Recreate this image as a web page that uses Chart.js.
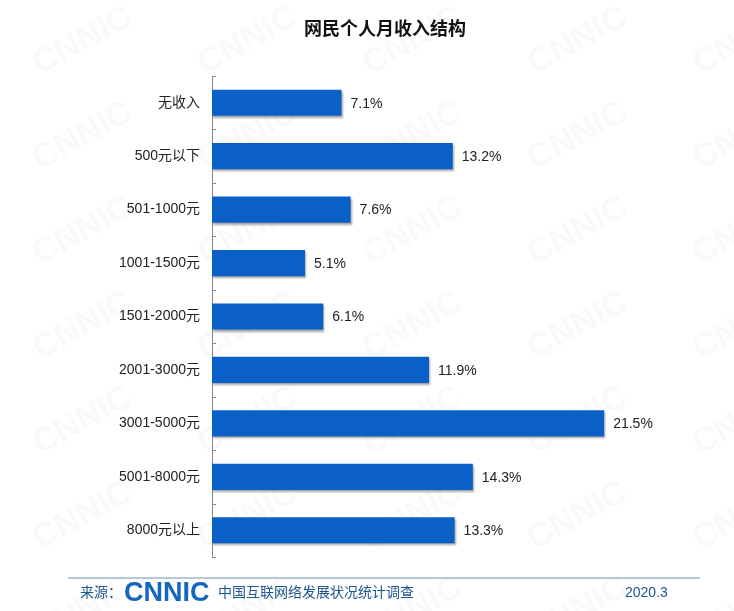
<!DOCTYPE html>
<html>
<head>
<meta charset="utf-8">
<script src="https://cdn.jsdelivr.net/npm/chart.js@4.4.0/dist/chart.umd.min.js"></script>
<style>
  html,body{margin:0;padding:0;background:#fff;}
  #wrap{width:734px;height:611px;position:relative;}
</style>
</head>
<body>
<div id="wrap"><canvas id="chart" width="734" height="611"></canvas></div>
<script>
// 网民个人月收入结构
var categories=['无收入','500元以下','501-1000元','1001-1500元','1501-2000元','2001-3000元','3001-5000元','5001-8000元','8000元以上'];
var shares=[7.1,13.2,7.6,5.1,6.1,11.9,21.5,14.3,13.3];
var titleText='网民个人月收入结构';
var sourceText='中国互联网络发展状况统计调查';
var dateText='2020.3';

var FONT='"Liberation Sans", Arial, "Noto Sans CJK SC", sans-serif';

// faint CNNIC watermark + title + footer
var decor={
  id:'decor',
  beforeDraw:function(chart){
    var ctx=chart.ctx;
    ctx.save();
    ctx.fillStyle='rgba(0,0,0,0.022)';
    ctx.font='bold 34px '+FONT;
    for(var y=-20;y<660;y+=95){
      for(var x=-40;x<780;x+=165){
        ctx.save();
        ctx.translate(x+((y/95)%2?80:0),y);
        ctx.rotate(-0.5);
        ctx.fillText('CNNIC',0,0);
        ctx.restore();
      }
    }
    ctx.restore();
  },
  afterDraw:function(chart){
    var ctx=chart.ctx;
    ctx.save();
    ctx.fillStyle='#111';
    ctx.font='bold 18px '+FONT;
    ctx.textAlign='center';
    ctx.textBaseline='middle';
    ctx.fillText(titleText,385,30);

    // footer
    ctx.strokeStyle='#9fb6d2';
    ctx.lineWidth=1.5;
    ctx.beginPath();ctx.moveTo(68,578);ctx.lineTo(700,578);ctx.stroke();
    ctx.textAlign='left';
    ctx.fillStyle='#1d5590';
    ctx.font='14px '+FONT;
    ctx.fillText('来源：',80,593);
    ctx.fillStyle='#1566c0';
    ctx.font='bold 27px '+FONT;
    ctx.fillText('CNNIC',124,594);
    ctx.fillStyle='#1d5590';
    ctx.font='14px '+FONT;
    ctx.fillText(sourceText,218,593);
    ctx.fillText(dateText,625,593);
    ctx.restore();
  }
};

// bar shadow
var shadow={
  id:'shadow',
  beforeDatasetsDraw:function(chart){
    var ctx=chart.ctx;
    ctx.save();
    ctx.shadowColor='rgba(0,0,0,0.35)';
    ctx.shadowOffsetY=2;
    ctx.shadowOffsetX=1;
    ctx.shadowBlur=2;
  },
  afterDatasetsDraw:function(chart){
    chart.ctx.restore();
  }
};

// value labels and inward tick marks between categories
var labels={
  id:'labels',
  afterDatasetsDraw:function(chart){
    var ctx=chart.ctx,meta=chart.getDatasetMeta(0),ys=chart.scales.y;
    ctx.save();
    ctx.fillStyle='#222';
    ctx.font='14px '+FONT;
    ctx.textBaseline='middle';
    meta.data.forEach(function(bar,i){
      ctx.fillText(shares[i].toFixed(1)+'%',bar.x+9,bar.y+1);
    });
    ctx.strokeStyle='#888';
    ctx.lineWidth=1;
    var x0=chart.chartArea.left;
    for(var i=0;i<=categories.length;i++){
      var py=Math.round(ys.getPixelForValue(i-0.5))+0.5;
      ctx.beginPath();ctx.moveTo(x0,py);ctx.lineTo(x0+4,py);ctx.stroke();
    }
    ctx.restore();
  }
};

new Chart(document.getElementById('chart'),{
  type:'bar',
  data:{
    labels:categories,
    datasets:[{
      data:shares,
      backgroundColor:'#0a60c6',
      borderWidth:0,
      barPercentage:0.49,
      categoryPercentage:1
    }]
  },
  options:{
    indexAxis:'y',
    responsive:false,
    animation:false,
    events:[],
    layout:{padding:{top:76,bottom:54,left:0,right:66}},
    plugins:{legend:{display:false},tooltip:{enabled:false}},
    scales:{
      x:{display:false,min:0,max:25},
      y:{
        afterFit:function(s){s.width=212;},
        grid:{display:false},
        border:{display:true,color:'#888',width:1},
        ticks:{color:'#222',padding:4,font:{family:FONT,size:14}}
      }
    }
  },
  plugins:[decor,shadow,labels]
});
</script>
</body>
</html>
